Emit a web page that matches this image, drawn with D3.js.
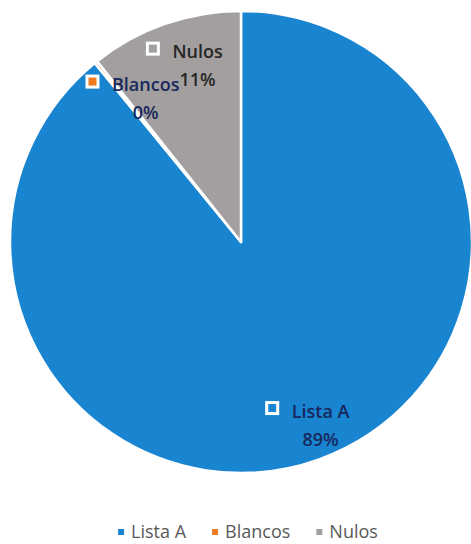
<!DOCTYPE html>
<html>
<head>
<meta charset="utf-8">
<script src="https://cdn.jsdelivr.net/npm/d3@7"></script>
<style>
  body { margin: 0; background: #fff; }
  svg { display: block; }
</style>
</head>
<body>
<div class="chart"></div>
<script>
// Data
const categories = ["Lista A", "Blancos", "Nulos"];
const values = [89.1, 0.2, 10.7];
const colors = ["#1984d0", "#f07b22", "#a39f9f"];

const WIDTH = 471, HEIGHT = 544;
const cx = 241, cy = 242, R = 231;

// where each data label sits: radius factor and angle nudge (degrees)
const labelPlace = {
  "Lista A": { k: 0.87, nudge: -3.7 },
  "Blancos": { k: 0.74, nudge: 5 },
  "Nulos":   { k: 0.78, nudge: 5.3 }
};

const total = d3.sum(values);
const fmt = d3.format(".0%");

const svg = d3.select(".chart").append("svg")
  .attr("width", WIDTH)
  .attr("height", HEIGHT);

const data = categories.map((c, i) => ({ name: c, value: values[i], color: colors[i] }));

const pie = d3.pie().value(d => d.value).sort(null);
const arc = d3.arc().innerRadius(0).outerRadius(R);

const g = svg.append("g").attr("transform", `translate(${cx},${cy})`);

g.selectAll("path")
  .data(pie(data))
  .enter().append("path")
  .attr("d", arc)
  .attr("fill", d => d.data.color)
  .attr("stroke", "#fff")
  .attr("stroke-width", 2.5)
  .attr("stroke-linejoin", "round");

// Data labels: marker + name on first line, percent under it
const labels = g.selectAll(".lbl")
  .data(pie(data))
  .enter().append("g")
  .attr("class", "lbl")
  .attr("transform", d => {
    const p = labelPlace[d.data.name];
    const a = (d.startAngle + d.endAngle) / 2 + p.nudge * Math.PI / 180;
    const r = p.k * R;
    return `translate(${r * Math.sin(a)},${-r * Math.cos(a)})`;
  });

labels.each(function(d) {
  const el = d3.select(this);
  const txtColor = d.data.name === "Nulos" ? "#262626" : "#18285c";
  const name = el.append("text")
    .attr("text-anchor", "middle")
    .attr("y", -9)
    .attr("font-family", "Open Sans, sans-serif")
    .attr("font-size", 18)
    .attr("font-weight", 600)
    .attr("fill", txtColor)
    .text(d.data.name);
  el.append("text")
    .attr("text-anchor", "middle")
    .attr("y", 19)
    .attr("font-family", "Open Sans, sans-serif")
    .attr("font-size", 18)
    .attr("font-weight", 600)
    .attr("fill", txtColor)
    .text(fmt(d.data.value / total));
  const w = name.node().getComputedTextLength();
  el.append("rect")
    .attr("x", -w / 2 - 12 - 13)
    .attr("y", -24)
    .attr("width", 11)
    .attr("height", 11)
    .attr("fill", d.data.color)
    .attr("stroke", "#fff")
    .attr("stroke-width", 3);
});

// Legend along the bottom
const legend = svg.append("g").attr("transform", "translate(0,538)");
const items = legend.selectAll(".item")
  .data(data)
  .enter().append("g")
  .attr("class", "item");

items.append("rect")
  .attr("width", 6)
  .attr("height", 6)
  .attr("y", -9)
  .attr("fill", d => d.color);

items.append("text")
  .attr("x", 13)
  .attr("font-family", "Open Sans, sans-serif")
  .attr("font-size", 18)
  .attr("fill", "#595959")
  .text(d => d.name);

let xpos = 0;
const offsets = [];
items.each(function() {
  const w = d3.select(this).select("text").node().getComputedTextLength();
  offsets.push(xpos);
  xpos += 13 + w + 26;
});
const legendW = xpos - 26;
items.attr("transform", (d, i) => `translate(${248 - legendW / 2 + offsets[i]},0)`);
</script>
</body>
</html>
